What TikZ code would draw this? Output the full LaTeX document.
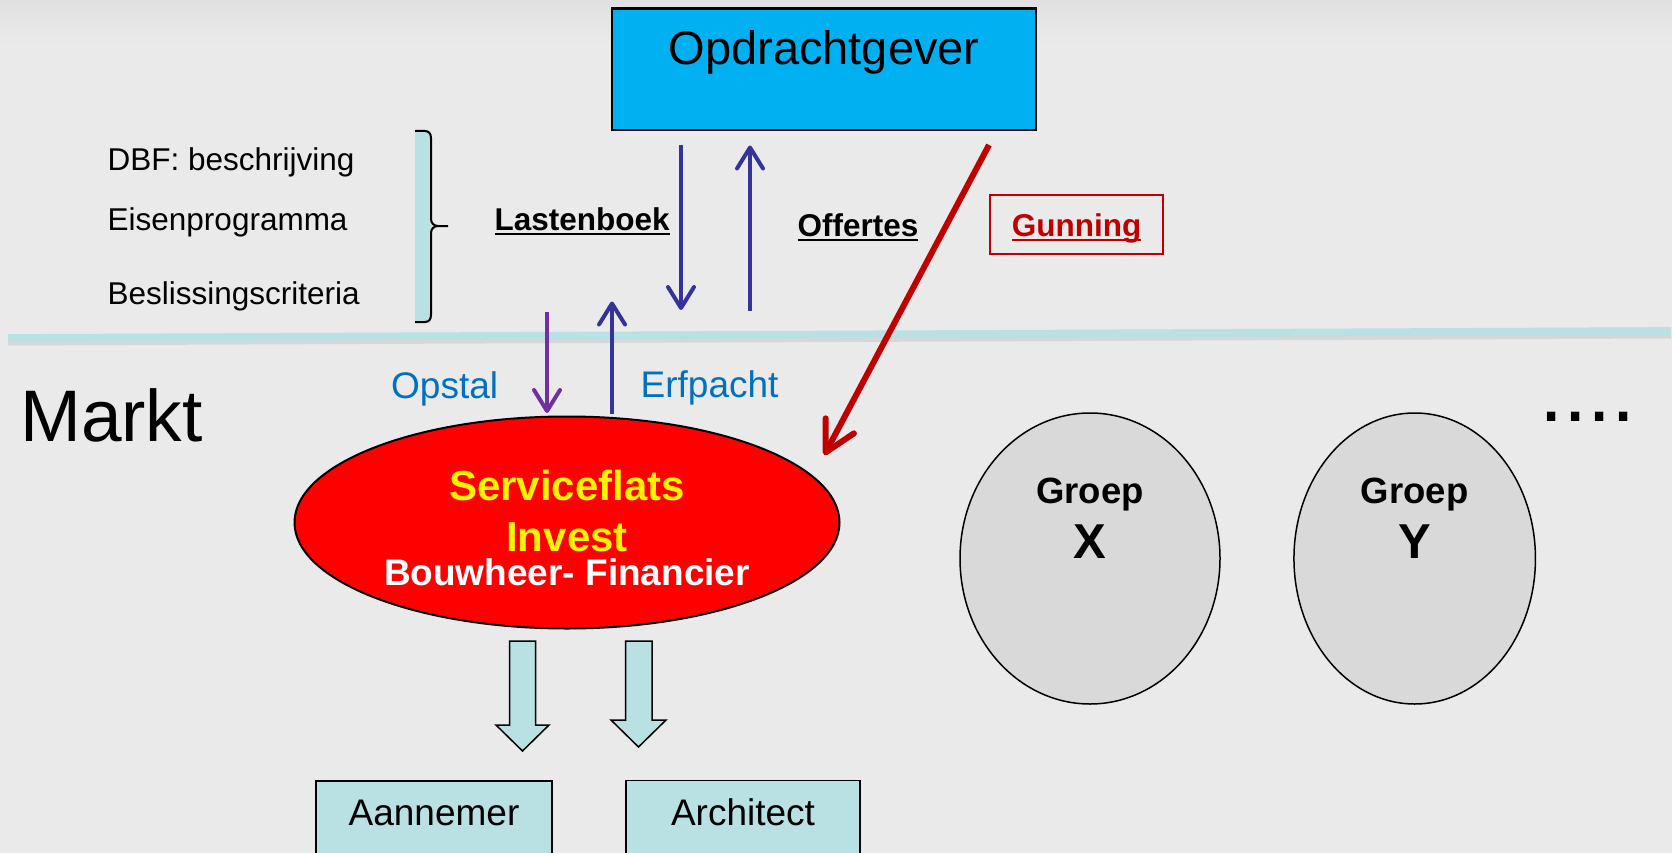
\documentclass[tikz,border=0pt]{standalone}
\usepackage{fontspec}
\setmainfont{Liberation Sans}
\usetikzlibrary{arrows.meta,shapes.geometric}
\definecolor{skyfill}{HTML}{00B0F0}
\definecolor{paleblue}{RGB}{185,224,227}
\definecolor{arrowblue}{HTML}{333399}
\definecolor{arrowpurple}{HTML}{7030A0}
\definecolor{textblue}{HTML}{0070C0}
\definecolor{darkred}{HTML}{C00000}
\definecolor{groepgray}{HTML}{D9D9D9}
\definecolor{slidebg}{HTML}{EAEAEA}
\newcommand{\undl}[1]{\setbox0\hbox{#1}\rlap{\rule[-4.5pt]{\wd0}{2pt}}\box0}
\begin{document}
\begin{tikzpicture}[
  x=1pt, y=-1pt,
  topbox/.style={draw, line width=2.5pt, fill=skyfill, inner sep=0pt, minimum width=424pt, minimum height=121.7pt, text height=34pt, text depth=42.4pt, font=\fontsize{47}{56}\selectfont},
  listtext/.style={anchor=base west, inner sep=0pt, font=\fontsize{31.5}{38}\selectfont},
  keyword/.style={anchor=base west, inner sep=0pt, font=\fontsize{31.5}{38}\selectfont\bfseries},
  awardbox/.style={draw=darkred, line width=1.5pt, text=darkred, inner sep=0pt, minimum width=173pt, minimum height=59pt, text height=24.4pt, text depth=0pt, font=\fontsize{31.5}{38}\selectfont\bfseries},
  flowtext/.style={anchor=base west, inner sep=0pt, text=textblue, font=\fontsize{37}{44}\selectfont},
  flow/.style={line width=4pt, -{Straight Barb[length=21pt,width=26pt,round]}},
  partyoval/.style={ellipse, draw, line width=2pt, fill=red, inner sep=0pt, minimum width=545pt, minimum height=212pt, align=center, text=yellow, text height=125pt, text depth=0pt, font=\fontsize{42}{51}\selectfont\bfseries},
  groupoval/.style={ellipse, draw, line width=1.5pt, fill=groepgray, inner sep=0pt, minimum height=291pt, align=center, text height=81pt, text depth=82pt, font=\fontsize{36.5}{55}\selectfont\bfseries},
  fatarrow/.style={draw, line width=1.5pt, fill=paleblue, line join=miter},
  subbox/.style={draw, line width=1.5pt, fill=paleblue, anchor=north, inner sep=0pt, minimum height=100pt, text height=26pt, text depth=36pt, font=\fontsize{37}{44}\selectfont}
]
\useasboundingbox (0,0) rectangle (1672,853);
\clip (0,0) rectangle (1672,853);
\fill[slidebg] (0,0) rectangle (1672,853);
\shade[top color=black!12, bottom color=slidebg] (0,0) rectangle (1672,45);

\draw[line width=5pt, black, opacity=0.08] (8,343) -- (1671,336);
\draw[line width=7.7pt, paleblue] (8,338) -- (1671,331);

\node[topbox] (opdr) at (824,69.2) {Opdrachtgever};

\node[listtext] (dbf)      at (107.5,170.7) {DBF: beschrijving};
\node[listtext] (eisen)    at (107.5,230.7) {Eisenprogramma};
\node[listtext] (criteria) at (107.5,304)   {Beslissingscriteria};

\fill[paleblue] (415,131) -- (425,131) .. controls (429,131) and (431,134) .. (431,138)
  -- (431,219) .. controls (431,223) and (434,226) .. (438,226)
  .. controls (434,226) and (431,229) .. (431,233) -- (431,315)
  .. controls (431,319) and (429,322) .. (425,322) -- (415,322) -- cycle;
\draw[line width=2pt] (415,131) -- (425,131) .. controls (429,131) and (431,134) .. (431,138)
  -- (431,219) .. controls (431,223) and (434,226) .. (438,226) -- (448,226);
\draw[line width=2pt] (438,226) .. controls (434,226) and (431,229) .. (431,233) -- (431,315)
  .. controls (431,319) and (429,322) .. (425,322) -- (415,322);

\node[keyword] (lasten)   at (494.5,230) {\undl{Lastenboek}};
\node[keyword] (offertes) at (797.5,236) {\undl{Offertes}};
\node[awardbox] (gunning) at (1076.5,224.5) {\undl{Gunning}};

\node[flowtext] (opstal)   at (391,398)   {Opstal};
\node[flowtext] (erfpacht) at (640.5,397.5) {Erfpacht};

\node[anchor=base west, inner sep=0pt, font=\fontsize{73}{88}\selectfont] (markt) at (20,441) {Markt};
\node[anchor=base west, inner sep=0pt, font=\fontsize{87}{100}\selectfont] (more) at (1539,421) {....};

\node[partyoval] (invest) at (567,522.5) {Serviceflats\\Invest\\[-17pt]{\fontsize{37}{44}\selectfont\color{white}Bouwheer- Financier}};
\node[groupoval, minimum width=260pt] (groepx) at (1090,558.5) {Groep\\{\fontsize{49}{55}\selectfont X}};
\node[groupoval, minimum width=241.5pt] (groepy) at (1414.7,558.5) {Groep\\{\fontsize{49}{55}\selectfont Y}};

\node[subbox, minimum width=236pt] (aannemer)  at (434,780)   {Aannemer};
\node[subbox, minimum width=234pt] (architect) at (743,779.5) {Architect};

\coordinate (lb-top) at (681,145);
\coordinate (lb-bot) at (681,310);
\coordinate (of-bot) at (750,311);
\coordinate (of-top) at (750,145.5);
\coordinate (op-top) at (547,311.5);
\coordinate (op-bot) at (547,413);
\coordinate (ep-bot) at (612,414);
\coordinate (ep-top) at (612,301.5);
\coordinate (gun-a) at (989,145);
\coordinate (gun-b) at (824.3,455);

\draw[flow, arrowblue] (lb-top) -- (lb-bot);
\draw[flow, arrowblue] (of-bot) -- (of-top);
\draw[flow, arrowpurple] (op-top) -- (op-bot);
\draw[flow, arrowblue] (ep-bot) -- (ep-top);
\draw[line width=6pt, darkred, -{Straight Barb[length=30pt,width=32pt,round]}] (gun-a) -- (gun-b);

\draw[fatarrow] (509.5,641) -- (535.5,641) -- (535.5,725) -- (549,725) -- (522.5,751) -- (496,725) -- (509.5,725) -- cycle;
\draw[fatarrow] (625.5,641) -- (652,641) -- (652,720) -- (666,720) -- (638.5,747) -- (611,720) -- (625.5,720) -- cycle;
\end{tikzpicture}
\end{document}
